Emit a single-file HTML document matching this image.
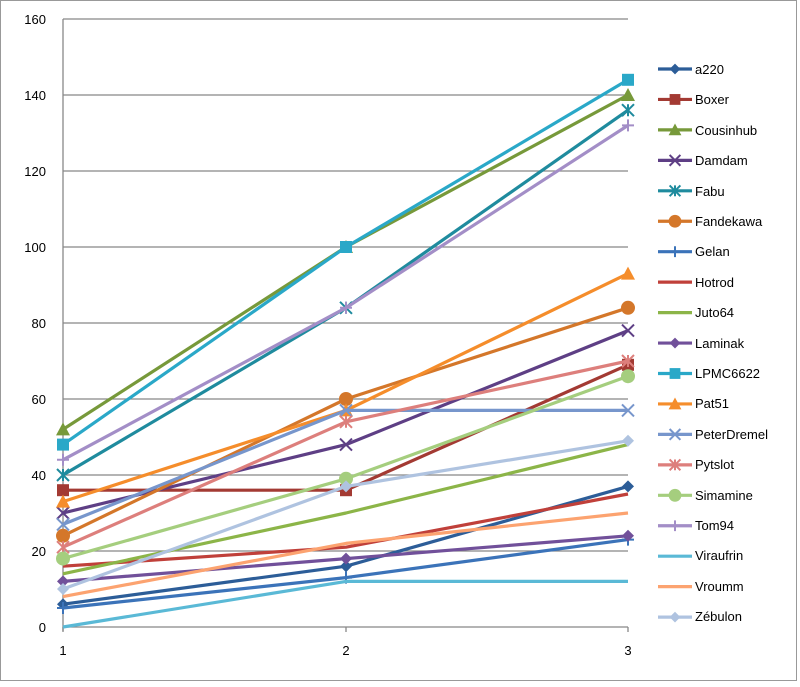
<!DOCTYPE html>
<html><head><meta charset="utf-8"><style>
html,body{margin:0;padding:0;background:#fff;}
svg text{font-family:"Liberation Sans",sans-serif;fill:#000;}
</style></head><body>
<svg id="c" width="800" height="682" xmlns="http://www.w3.org/2000/svg">
<rect x="0.5" y="0.5" width="796" height="680" fill="#fff" stroke="#999"/>
<g id="grid" stroke="#888" stroke-width="1.3"></g>
<g font-size="13" text-anchor="end">
<text x="46" y="632">0</text><text x="46" y="556">20</text><text x="46" y="480">40</text><text x="46" y="404">60</text><text x="46" y="328">80</text><text x="46" y="252">100</text><text x="46" y="176">120</text><text x="46" y="100">140</text><text x="46" y="24">160</text>
</g>
<g font-size="13" text-anchor="middle">
<text x="63" y="655">1</text><text x="346" y="655">2</text><text x="628" y="655">3</text>
</g>
<g id="series"></g>
<g id="leg"></g>
<g font-size="13">
<text x="695" y="74">a220</text><text x="695" y="104">Boxer</text><text x="695" y="135">Cousinhub</text><text x="695" y="165">Damdam</text><text x="695" y="196">Fabu</text><text x="695" y="226">Fandekawa</text><text x="695" y="256">Gelan</text><text x="695" y="287">Hotrod</text><text x="695" y="317">Juto64</text><text x="695" y="348">Laminak</text><text x="695" y="378">LPMC6622</text><text x="695" y="408">Pat51</text><text x="695" y="439">PeterDremel</text><text x="695" y="469">Pytslot</text><text x="695" y="500">Simamine</text><text x="695" y="530">Tom94</text><text x="695" y="560">Viraufrin</text><text x="695" y="591">Vroumm</text><text x="695" y="621">Zébulon</text>
</g>
</svg>
<script>
var NS="http://www.w3.org/2000/svg";
function el(p,t,a){var e=document.createElementNS(NS,t);for(var k in a)e.setAttribute(k,a[k]);p.appendChild(e);return e;}
var g=document.getElementById('grid');
for(var i=0;i<=8;i++){var y=627-i*76;el(g,'line',{x1:63,x2:628,y1:y,y2:y});}
el(g,'line',{x1:63,x2:63,y1:19,y2:631});
[63,346,628].forEach(function(x){el(g,'line',{x1:x,x2:x,y1:627,y2:632});});
var S=[
["#2c5d98","d",[6,16,37]],
["#a33a33","s",[36,36,69]],
["#77993a","t",[52,100,140]],
["#5e3f85","x",[30,48,78]],
["#1f8b9e","a",[40,84,136]],
["#d4772a","o",[24,60,84]],
["#3b73b9","p",[5,13,23]],
["#c0403a","m",[16,21,35]],
["#8cb548","m",[14,30,48]],
["#71509a","d",[12,18,24]],
["#2aa8c8","s",[48,100,144]],
["#f58d2b","t",[33,57,93]],
["#7796cc","x",[27,57,57]],
["#dd7f7c","a",[21,54,70]],
["#a5ce7e","o",[18,39,66]],
["#a38ec7","p",[44,84,132]],
["#5ab9d6","m",[0,12,12]],
["#fca370","m",[8,22,30]],
["#afc3e0","d",[10,37,49]]];
var xs=[63,346,628];
function mk(p,c,t,x,y,s){s=s||1;var r=6*s;
 if(t=='d')el(p,'polygon',{points:(x)+','+(y-r)+' '+(x+r)+','+y+' '+x+','+(y+r)+' '+(x-r)+','+y,fill:c});
 else if(t=='s')el(p,'rect',{x:x-r,y:y-r,width:2*r,height:2*r,fill:c});
 else if(t=='t')el(p,'polygon',{points:x+','+(y-r-1)+' '+(x+r+1)+','+(y+r)+' '+(x-r-1)+','+(y+r),fill:c});
 else if(t=='o')el(p,'circle',{cx:x,cy:y,r:r+1,fill:c});
 else if(t=='x'){el(p,'path',{d:'M'+(x-r)+' '+(y-r)+'L'+(x+r)+' '+(y+r)+'M'+(x+r)+' '+(y-r)+'L'+(x-r)+' '+(y+r),stroke:c,'stroke-width':2,fill:'none'});}
 else if(t=='a'){el(p,'path',{d:'M'+(x-r)+' '+(y-r)+'L'+(x+r)+' '+(y+r)+'M'+(x+r)+' '+(y-r)+'L'+(x-r)+' '+(y+r)+'M'+x+' '+(y-r)+'L'+x+' '+(y+r),stroke:c,'stroke-width':2,fill:'none'});}
 else if(t=='p'){el(p,'path',{d:'M'+(x-r)+' '+y+'L'+(x+r)+' '+y+'M'+x+' '+(y-r)+'L'+x+' '+(y+r),stroke:c,'stroke-width':2,fill:'none'});}
}
var sg=document.getElementById('series'),lg=document.getElementById('leg');
S.forEach(function(s,i){
 var pts=s[2].map(function(v,j){return xs[j]+','+(627-v*3.8);}).join(' ');
 el(sg,'polyline',{points:pts,fill:'none',stroke:s[0],'stroke-width':3.2,'stroke-linejoin':'round'});
 s[2].forEach(function(v,j){mk(sg,s[0],s[1],xs[j],627-v*3.8);});
 var ly=69+i*30.45;
 el(lg,'line',{x1:658,x2:692,y1:ly,y2:ly,stroke:s[0],'stroke-width':3.2});
 mk(lg,s[0],s[1],675,ly,0.9);
});
</script>
</body></html>
